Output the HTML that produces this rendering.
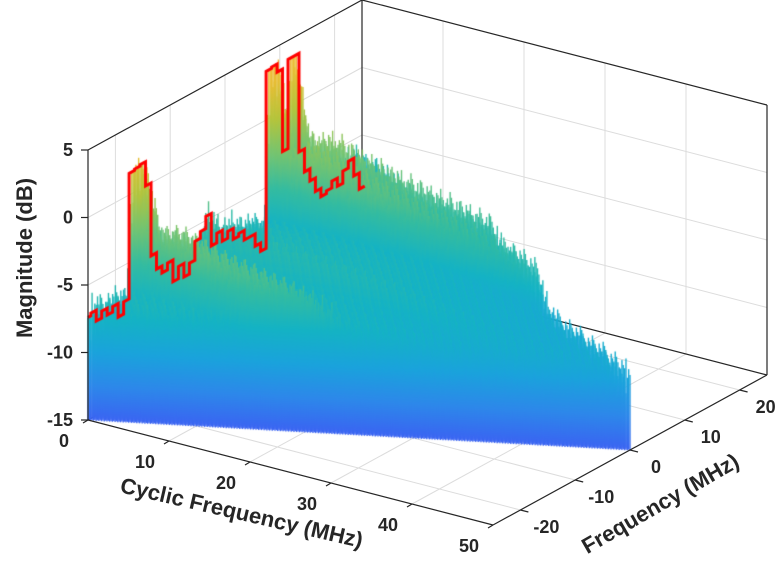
<!DOCTYPE html>
<html><head><meta charset="utf-8"><style>
html,body{margin:0;padding:0;background:#fff;}
#wrap{position:relative;width:783px;height:579px;overflow:hidden;font-family:"Liberation Sans",sans-serif;}
svg,canvas{position:absolute;left:0;top:0;}
text{font-family:"Liberation Sans",sans-serif;font-weight:bold;fill:#262626;}
</style></head><body>
<div id="wrap">
<svg id="back" width="783" height="579"></svg>
<canvas id="cv" width="783" height="579"></canvas>
<svg id="front" width="783" height="579"></svg>
</div>
<script>
// ---- data ----
const cycTicks = [0,10,20,30,40,50];
const freqTicks = [-20,-10,0,10,20];
const zTicks = [5,0,-5,-10,-15];
// PSD (cyclic frequency = 0), red curve, f = -25..25 step 1
const psdFreq = [-25,-24,-23,-22,-21,-20,-19,-18,-17,-16,-15,-14,-13,-12,-11,-10,-9,-8,-7,-6,-5,-4,-3,-2,-1,0,1,2,3,4,5,6,7,8,9,10,11,12,13,14,15,16,17,18,19,20,21,22,23,24,25];
const psdDb = [-7.4,-7.2,-8.0,-7.5,-8.0,-7.6,-8.6,-7.7,1.6,1.7,1.8,0.0,-5.4,-6.6,-7.1,-6.6,-8.2,-7.3,-8.3,-7.5,-6.1,-5.6,-4.7,-7.1,-6.4,-7.2,-6.7,-7.5,-7.3,-8.0,-8.0,-8.9,-9.5,3.6,3.7,3.1,-3.0,3.6,3.6,-3.7,-5.4,-6.3,-7.3,-7.9,-7.7,-7.2,-7.8,-6.9,-6.4,-7.7,-8.9];
// decay of spectral structure along cyclic frequency
const decayCyc = [0,0.5,2,5,10,20,30,40,50];
const decayW = [1,0.8,0.4,0.45,0.35,0.25,0.2,0.15,0.1];
// floor level of the surface along cyclic frequency
const baseCyc = [0,10,20,30,40,50];
const baseDb = [-8.3,-8.3,-8.6,-9.6,-10.4,-10.6];
const ripple = [0.8,-1.2,1.6,-0.4,0.3,-1.8,1.1,-0.7,2.0,-1.0,0.5,-1.5,1.3,-0.2,0.9,-1.1,0.2];

// ---- projection ----
function px(c,f){return 88+8.1*c+5.48*(f+25);}
function py(c,f,z){return 420+2.1*c-3*(f+25)-13.5*(z+15);}
function interp(xs,ys,x){
  if(x<=xs[0])return ys[0];
  for(let i=1;i<xs.length;i++){if(x<=xs[i]){const t=(x-xs[i-1])/(xs[i]-xs[i-1]);return ys[i-1]+t*(ys[i]-ys[i-1]);}}
  return ys[ys.length-1];
}
const NS='http://www.w3.org/2000/svg';
function mk(parent,tag,attrs,name,txt){
  const e=document.createElementNS(NS,tag);
  for(const k in attrs)e.setAttribute(k,attrs[k]);
  
  
  if(txt!==undefined)e.textContent=txt;
  parent.appendChild(e);return e;
}
const back=document.getElementById('back'), front=document.getElementById('front');
function seg(p,a,b,col,w,name){return mk(p,'line',{x1:a[0],y1:a[1],x2:b[0],y2:b[1],stroke:col,'stroke-width':w},name);}
const G='#dcdcdc';
// grid on left wall (c=0)
[0,-5,-10].forEach(z=>seg(back,[px(0,-25),py(0,-25,z)],[px(0,25),py(0,25,z)],G,1,'grid-z-left'));
freqTicks.forEach(f=>seg(back,[px(0,f),py(0,f,-15)],[px(0,f),py(0,f,5)],G,1,'grid-f-left'));
// grid on back wall (f=25)
[0,-5,-10].forEach(z=>seg(back,[px(0,25),py(0,25,z)],[px(50,25),py(50,25,z)],G,1,'grid-z-back'));
[10,20,30,40].forEach(c=>seg(back,[px(c,25),py(c,25,-15)],[px(c,25),py(c,25,5)],G,1,'grid-c-back'));
// floor grid
[10,20,30,40].forEach(c=>seg(back,[px(c,-25),py(c,-25,-15)],[px(c,25),py(c,25,-15)],G,1,'grid-c-floor'));
freqTicks.forEach(f=>seg(back,[px(0,f),py(0,f,-15)],[px(50,f),py(50,f,-15)],G,1,'grid-f-floor'));
// box edges
const K='#262626';
seg(back,[px(0,-25),py(0,-25,5)],[px(0,25),py(0,25,5)],K,1.2,'box-edge');
seg(back,[px(0,25),py(0,25,5)],[px(50,25),py(50,25,5)],K,1.2,'box-edge');
seg(back,[px(0,25),py(0,25,-15)],[px(0,25),py(0,25,5)],K,1.2,'box-edge');
seg(back,[px(50,25),py(50,25,-15)],[px(50,25),py(50,25,5)],K,1.2,'box-edge');
seg(back,[px(0,25),py(0,25,-15)],[px(50,25),py(50,25,-15)],K,1.2,'box-edge');
seg(back,[px(0,-25),py(0,-25,-15)],[px(0,25),py(0,25,-15)],K,1.2,'box-edge');

// ---- surface ----
const cv=document.getElementById('cv'),ctx=cv.getContext('2d');
const stops=[[-15,'#3a64f2'],[-12.5,'#2d88ea'],[-10,'#1aa3dc'],[-7.5,'#14b3c4'],[-5,'#34bca0'],[-2.5,'#74c470'],[0,'#b4c43c'],[2.5,'#e6bd32'],[5,'#f8b63a']];
function psd(f){return interp(psdFreq,psdDb,f);}
const items=[];
let i=0;
for(let c=0;c<=50.001;c+=0.25,i++){
  const w=interp(decayCyc,decayW,c);
  const b=interp(baseCyc,baseDb,c);
  let j=0;
  for(let f=-25+0.5*c; f<=25-0.5*c+0.001; f+=0.25,j++){
    let z;
    if(c===0) z=psd(f);
    else z=b+w*(psd(f)-b)+ripple[(i*5+j*3)%17]*0.9;
    items.push([py(c,f,-15),px(c,f),z]);
  }
}
items.sort((a,b)=>a[0]-b[0]);
ctx.lineWidth=1.4;
for(const it of items){
  const yb=it[0],x=it[1],z=it[2];
  const g=ctx.createLinearGradient(0,yb,0,yb-13.5*20);
  stops.forEach(s=>g.addColorStop((s[0]+15)/20,s[1]));
  ctx.strokeStyle=g;
  ctx.beginPath();ctx.moveTo(x,yb+0.5);ctx.lineTo(x,yb-13.5*(z+15));ctx.stroke();
}
// red PSD line (stepped)
ctx.strokeStyle='#ff0000';ctx.lineWidth=3;ctx.lineJoin='miter';
ctx.beginPath();
for(let k=0;k<psdFreq.length;k++){
  const f=psdFreq[k],z=psdDb[k];
  const x0=px(0,f-0.5),x1=px(0,f+0.5);
  const y0=py(0,f-0.5,z),y1=py(0,f+0.5,z);
  if(k===0)ctx.moveTo(px(0,f),py(0,f,z));else ctx.lineTo(x0,y0);
  ctx.lineTo(x1,y1);
}
ctx.stroke();

// ---- axes (front) ----
seg(front,[px(0,-25),py(0,-25,-15)],[px(0,-25),py(0,-25,5)],K,1.2,'z-axis-line');
seg(front,[px(0,-25),py(0,-25,-15)],[px(50,-25),py(50,-25,-15)],K,1.2,'x-axis-line');
seg(front,[px(50,-25),py(50,-25,-15)],[px(50,25),py(50,25,-15)],K,1.2,'y-axis-line');
zTicks.forEach(z=>{
  const x=px(0,-25),y=py(0,-25,z);
  seg(front,[x-7,y],[x,y],K,1.2,'z-tick');
  mk(front,'text',{x:x-15,y:y+6,'text-anchor':'end','font-size':18},'z-tick-label',String(z));
});
cycTicks.forEach(c=>{
  const x=px(c,-25),y=py(c,-25,-15);
  seg(front,[x,y],[x-5,y+3],K,1.2,'x-tick');
  mk(front,'text',{x:x-24,y:y+27,'text-anchor':'middle','font-size':18},'x-tick-label',String(c));
});
freqTicks.forEach(f=>{
  const x=px(50,f),y=py(50,f,-15);
  seg(front,[x,y],[x+8,y+2],K,1.2,'y-tick');
  mk(front,'text',{x:x+26,y:y+23,'text-anchor':'middle','font-size':18},'y-tick-label',String(f));
});
mk(front,'text',{x:0,y:0,'text-anchor':'middle','font-size':22,transform:'translate(32,258) rotate(-90)'},'z-axis-title','Magnitude (dB)');
mk(front,'text',{x:0,y:0,'text-anchor':'middle','font-size':22,transform:'translate(240,520) rotate(13)'},'x-axis-title','Cyclic Frequency (MHz)');
mk(front,'text',{x:0,y:0,'text-anchor':'middle','font-size':22,transform:'translate(664,510) rotate(-30)'},'y-axis-title','Frequency (MHz)');
</script>
</body></html>
